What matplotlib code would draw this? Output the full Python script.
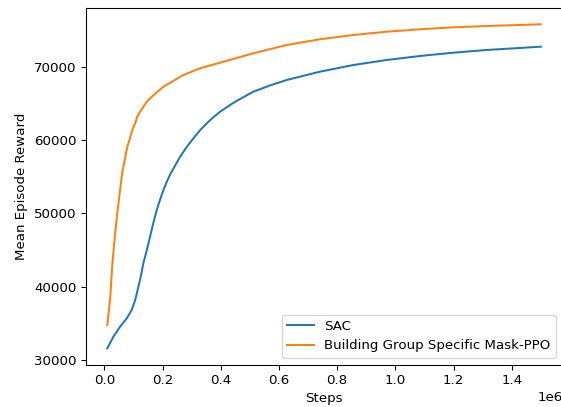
import numpy as np
import matplotlib
matplotlib.use('Agg')
import matplotlib.pyplot as plt

# SAC curve (steps in millions, mean episode reward)
sac_steps = [0.010, 0.031, 0.054, 0.077, 0.094, 0.106, 0.117, 0.125, 0.134, 0.146,
             0.157, 0.168, 0.180, 0.191, 0.203, 0.214, 0.226, 0.243, 0.260, 0.283,
             0.306, 0.329, 0.352, 0.375, 0.398, 0.432, 0.455, 0.512, 0.569, 0.627,
             0.741, 0.856, 0.970, 1.085, 1.200, 1.314, 1.428, 1.500]
sac_reward = [31590, 33170, 34540, 35680, 36810, 38180, 39990, 41360, 43180, 45000,
              46810, 48640, 50450, 51820, 53180, 54250, 55300, 56500, 57700, 59050,
              60230, 61330, 62280, 63120, 63860, 64780, 65340, 66590, 67440, 68190,
              69320, 70230, 70910, 71460, 71910, 72280, 72550, 72730]

# Building Group Specific Mask-PPO curve
ppo_steps = [0.010, 0.020, 0.028, 0.037, 0.045, 0.054, 0.062, 0.071, 0.079, 0.088,
             0.096, 0.106, 0.113, 0.123, 0.134, 0.146, 0.163, 0.180, 0.203, 0.232,
             0.272, 0.329, 0.398, 0.512, 0.627, 0.741, 0.856, 0.970, 1.085, 1.200,
             1.314, 1.428, 1.500]
ppo_reward = [34770, 38410, 43400, 47270, 50220, 53180, 55680, 57500, 59090, 60230,
              61370, 62280, 63180, 63860, 64540, 65230, 65910, 66510, 67270, 67950,
              68870, 69780, 70550, 71830, 72960, 73740, 74320, 74770, 75100, 75370,
              75550, 75690, 75780]

fig = plt.figure(figsize=(561/96, 407/96), dpi=96)
ax = fig.add_axes([85.6/561, 1 - 364.5/407, (562.5 - 85.6)/561, (364.5 - 8.1)/407])

ax.plot(np.array(sac_steps) * 1e6, sac_reward, label='SAC', color='tab:blue', lw=1.5)
ax.plot(np.array(ppo_steps) * 1e6, ppo_reward, label='Building Group Specific Mask-PPO',
        color='tab:orange', lw=1.5)

ax.set_xlabel('Steps')
ax.set_ylabel('Mean Episode Reward')
ax.legend(loc='lower right')

fig.savefig('out.png', dpi=96)
